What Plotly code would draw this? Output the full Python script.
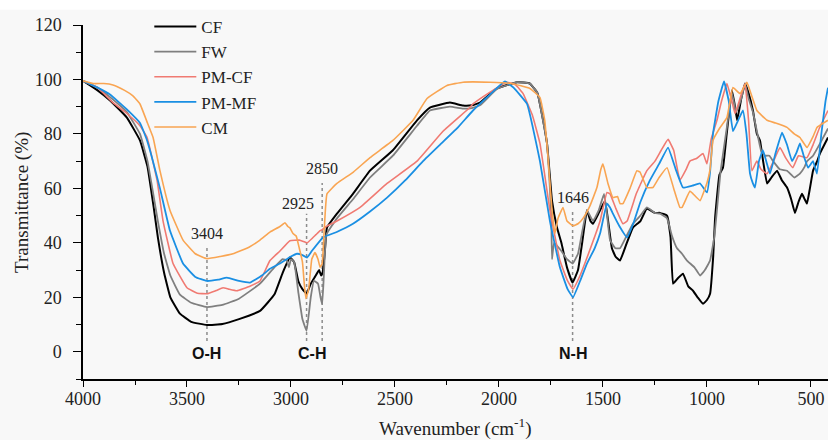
import plotly.graph_objects as go

# ---------------- data ----------------
wn_CF = [4000, 3930, 3870, 3789, 3726, 3690, 3660, 3640, 3610, 3580, 3534, 3480, 3404, 3330, 3250, 3149, 3080, 3040,
         3005, 2985, 2965, 2945, 2925, 2905, 2885, 2865, 2855, 2848, 2838, 2827, 2779, 2702, 2620, 2510, 2394, 2332,
         2236, 2173, 2130, 2091, 2010, 1913, 1851, 1815, 1803, 1769, 1745, 1721, 1700, 1673, 1646, 1620, 1600, 1577,
         1560, 1548, 1520, 1490, 1470, 1457, 1440, 1418, 1390, 1356, 1320, 1289, 1250, 1226, 1192, 1175, 1163, 1140,
         1115, 1090, 1067, 1045, 1019, 1000, 985, 970, 961, 940, 923, 905, 880, 865, 855, 835, 817, 800, 779, 760,
         745, 730, 711, 690, 663, 640, 615, 595, 577, 560, 543, 530, 519, 505, 490, 470, 457, 418]
t_CF = [99.5, 96, 92.3, 86, 77.6, 68, 53, 42, 29, 20, 14, 11, 9.8, 10.2, 12, 15, 21, 29,
        34.6, 33, 26, 23, 21.3, 25, 27.5, 30, 28, 29, 36, 45.6, 50.7, 58, 66.5, 74, 85, 89.7,
        91.5, 90.4, 90.5, 91.5, 96.7, 99, 98.5, 95, 91, 76.5, 55.5, 45.6, 40, 31, 25.4, 30, 40, 52,
        48, 47, 51, 55.5, 45, 38, 35, 33.5, 39, 45.6, 48, 52.6, 51, 51, 50, 42, 25, 27,
        28.7, 24, 22.4, 20, 17.6, 19, 21.3, 35, 49, 65, 67.6, 80, 96, 90, 85, 93, 98.5, 95, 88.6, 80,
        77.6, 70, 61.8, 64, 66.5, 63, 60.3, 56, 51, 55, 58, 56, 54.4, 60, 66.5, 70, 72.8, 78.7]

wn_FW = [4000, 3930, 3870, 3789, 3726, 3690, 3660, 3640, 3610, 3580, 3534, 3480, 3404, 3330, 3250, 3149, 3080, 3040,
         3020, 3010, 3000, 2985, 2965, 2945, 2925, 2905, 2890, 2870, 2858, 2850, 2842, 2830, 2779, 2702, 2620, 2510,
         2394, 2332, 2236, 2173, 2130, 2091, 2010, 1913, 1851, 1815, 1803, 1769, 1755, 1748, 1745, 1735, 1700, 1673,
         1646, 1620, 1600, 1577, 1548, 1520, 1495, 1480, 1466, 1440, 1418, 1390, 1356, 1320, 1289, 1250, 1226, 1192,
         1170, 1144, 1120, 1096, 1060, 1033, 1010, 985, 965, 952, 935, 905, 880, 860, 835, 817, 800, 779, 760, 740,
         720, 700, 682, 650, 615, 580, 553, 530, 519, 490, 460, 418]
t_FW = [99.5, 97, 93.5, 88, 80, 70, 57, 48, 36, 28, 21, 18, 16.4, 17.2, 19.5, 25, 31, 34,
        33.5, 31, 34, 33, 22, 12, 7.7, 20, 26, 25, 20, 17.5, 28, 43, 49, 56, 64, 72,
        83, 88.6, 90, 89.3, 89.5, 90.5, 96.5, 99, 98.5, 95, 91, 76.5, 60, 48, 34, 40, 37, 34,
        32.4, 36, 44, 52, 48, 52, 58, 50, 41, 38, 38, 42, 47, 50, 53, 51, 50.7, 49,
        43, 38, 36, 33.5, 31, 28, 30, 33.5, 42, 52, 66, 82, 95, 88, 93, 98.5, 93, 88, 81, 74,
        72, 72, 70, 67, 66.5, 64, 65.4, 68, 70, 72, 76, 82]

wn_PMCF = [4000, 3930, 3856, 3789, 3726, 3692, 3644, 3615, 3567, 3500, 3450, 3404, 3360, 3327, 3300, 3260, 3200, 3149,
           3101, 3053, 3005, 2960, 2940, 2923, 2900, 2880, 2860, 2850, 2830, 2779, 2668, 2538, 2394, 2269, 2140, 2125,
           2050, 1962, 1920, 1884, 1840, 1803, 1755, 1707, 1670, 1644, 1610, 1577, 1514, 1481, 1466, 1440, 1404, 1384,
           1340, 1289, 1250, 1220, 1187, 1160, 1130, 1100, 1082, 1050, 1019, 1000, 980, 952, 930, 904, 880, 865, 845,
           817, 800, 784, 760, 740, 711, 680, 649, 620, 587, 560, 519, 490, 460, 418]
t_PMCF = [99.5, 97, 91.5, 87.5, 83, 78.7, 63, 48, 32.4, 23.5, 21.5, 21.3, 22.5, 23.5, 23, 22.4, 24, 26,
          33.5, 37, 40.8, 41, 40.5, 40, 41.5, 43, 44.5, 44.8, 46, 48, 53, 61.8, 70, 81, 89.7, 91,
          95, 99, 98, 94.8, 87, 76.5, 52, 33.5, 26, 23, 28, 34.5, 48, 58.5, 58, 53, 47, 48,
          58, 66.5, 70, 74, 78, 74, 63, 67, 70, 71, 72.8, 69, 78, 85, 92, 98.5, 92, 87.5, 92,
          98.5, 85, 66.5, 70, 67, 65.4, 70, 75, 71, 67.6, 72, 71.3, 76, 82, 88.6]

wn_PMMF = [4000, 3930, 3870, 3789, 3726, 3692, 3630, 3582, 3519, 3460, 3404, 3350, 3308, 3250, 3197, 3140, 3101, 3053,
           3000, 2971, 2945, 2923, 2900, 2846, 2780, 2702, 2620, 2538, 2450, 2365, 2284, 2202, 2125, 2050, 1971, 1930,
           1865, 1803, 1755, 1707, 1670, 1644, 1610, 1577, 1540, 1514, 1481, 1466, 1452, 1420, 1384, 1350, 1320, 1274,
           1230, 1187, 1150, 1115, 1070, 1033, 1000, 985, 971, 945, 918, 895, 875, 850, 827, 810, 793, 780, 769, 750,
           731, 715, 697, 670, 639, 615, 591, 570, 553, 535, 514, 490, 471, 450, 430, 418]
t_PMMF = [99.5, 97, 94.5, 89, 84, 77.6, 60, 44.5, 32.4, 27.5, 26, 26.5, 27.2, 26, 25.4, 28, 30.5, 32.4,
          35, 36, 35.5, 34.6, 37, 42, 44, 47, 51.5, 56.6, 63, 70, 76, 82, 88.6, 94, 99.3, 97,
          91, 70, 48, 31, 23, 20, 26, 32.4, 38, 43.4, 54.4, 53, 50.7, 46, 42, 48, 55, 63,
          69, 75, 67, 60.3, 61, 61.8, 58.5, 66, 80, 92, 99.3, 92, 81, 85, 88.6, 80, 65.4, 62, 60.3, 70,
          74, 70, 65.4, 73, 80.5, 76, 70, 73, 76.5, 72, 67.6, 70, 65.4, 80, 92, 97]

wn_CM = [4000, 3950, 3900, 3856, 3800, 3760, 3726, 3690, 3663, 3630, 3582, 3519, 3460, 3404, 3340, 3279, 3200, 3149,
         3100, 3053, 3029, 3015, 3005, 2990, 2975, 2960, 2945, 2935, 2928, 2915, 2900, 2885, 2870, 2860, 2850, 2840,
         2827, 2779, 2700, 2620, 2510, 2413, 2346, 2250, 2173, 2043, 1940, 1851, 1803, 1780, 1765, 1745, 1731, 1716,
         1692, 1673, 1644, 1620, 1596, 1562, 1529, 1510, 1500, 1476, 1452, 1430, 1418, 1404, 1370, 1337, 1322, 1289,
         1260, 1230, 1192, 1160, 1130, 1120, 1082, 1067, 1033, 1000, 985, 971, 940, 904, 875, 841, 808, 785, 760,
         711, 670, 615, 580, 553, 519, 490, 471, 440, 418]
t_CM = [99.5, 98.5, 98.5, 98, 96, 94, 91, 84, 78.7, 66.5, 52, 41, 36, 34.2, 35, 36, 38.5, 41,
        44, 46, 47.4, 46, 45.5, 43.4, 42.5, 38, 33, 24, 19.5, 23, 34, 36.4, 34, 31, 32.4, 45,
        58, 61.8, 66, 71.3, 77.6, 85, 93, 97.8, 99, 99, 98.5, 96.7, 93.4, 85, 72, 52, 43.4, 49,
        53, 48, 46.3, 47, 49, 53.7, 60.3, 67, 69, 61.8, 56.6, 57, 54.4, 54.4, 60, 66.5, 66, 60.3,
        60.3, 64, 67.6, 60, 53, 53, 59, 58, 55.5, 62, 67, 77.6, 82, 86, 97, 94.8, 99, 94, 88.6,
        85, 84, 82.4, 80, 78.7, 75, 79, 82.4, 84, 85]

series_names = ["CF", "FW", "PM-CF", "PM-MF", "CM"]
series_x = [wn_CF, wn_FW, wn_PMCF, wn_PMMF, wn_CM]
series_y = [t_CF, t_FW, t_PMCF, t_PMMF, t_CM]
series_colors = ["#000000", "#7f7f7f", "#f07a72", "#1a8fe3", "#f9a552"]
series_widths = [2, 1.8, 1.6, 1.8, 1.6]

# peak markers: wavenumber, line top, label text, label y
peak_wn = [3404, 2925, 2850, 1646]
peak_top = [39, 50.7, 62, 51.8]
peak_label_wn = [3404, 2966, 2851, 1644]
peak_label_y = [43.4, 54.4, 67.3, 56.6]

group_labels = ["O-H", "C-H", "N-H"]
group_wn = [3404, 2899, 1644]
group_y = -0.5

xticks = [4000, 3500, 3000, 2500, 2000, 1500, 1000, 500]
yticks = [0, 20, 40, 60, 80, 100, 120]

SERIF = "Liberation Serif"
SANS = "Liberation Sans"

fig = go.Figure()

for wn, top in zip(peak_wn, peak_top):
    fig.add_trace(go.Scatter(x=[wn, wn], y=[4, top], mode="lines",
                             line=dict(color="#8c8c8c", width=1.5, dash="dot"),
                             showlegend=False, hoverinfo="skip"))

for name, xs, ys, c, w in zip(series_names, series_x, series_y, series_colors, series_widths):
    fig.add_trace(go.Scatter(x=xs, y=ys, mode="lines", name=name,
                             line=dict(color=c, width=w, shape="spline", smoothing=0.3)))

annotations = []
for lx, ly, wn in zip(peak_label_wn, peak_label_y, peak_wn):
    annotations.append(dict(x=lx, y=ly, xref="x", yref="y", text=str(wn), showarrow=False,
                            font=dict(family=SERIF, size=16, color="#222222")))
for lab, gx in zip(group_labels, group_wn):
    annotations.append(dict(x=gx, y=group_y, xref="x", yref="y", text="<b>" + lab + "</b>", showarrow=False,
                            font=dict(family=SANS, size=16, color="#111111")))
annotations.append(dict(x=-0.082, y=0.5, xref="paper", yref="paper", xanchor="center", yanchor="middle",
                        text="Transmittance (%)", textangle=-90, showarrow=False,
                        font=dict(family=SERIF, size=19, color="#222222")))
annotations.append(dict(x=0.5, y=-0.138, xref="paper", yref="paper", xanchor="center", yanchor="middle",
                        text="Wavenumber (cm<sup>-1</sup>)",
                        showarrow=False, font=dict(family=SERIF, size=19, color="#222222")))

fig.update_layout(
    width=828, height=440,
    margin=dict(l=83, r=0, t=25, b=61),
    paper_bgcolor="#f8f8f8", plot_bgcolor="#f8f8f8",
    font=dict(family=SERIF, size=18, color="#222222"),
    showlegend=True,
    legend=dict(x=0.089, y=1.045, xanchor="left", yanchor="top", bgcolor="rgba(0,0,0,0)",
                font=dict(family=SERIF, size=17, color="#222222"), itemwidth=42,
                tracegroupgap=0),
    annotations=annotations,
    shapes=[dict(type="rect", xref="paper", yref="paper", x0=-0.12, x1=1.01, y0=1.043, y1=1.08,
                 fillcolor="white", line=dict(width=0), layer="below")],
)

fig.update_xaxes(range=[4000, 418], tickvals=xticks, ticks="outside", ticklen=6, tickwidth=1.3,
                 showline=True, linecolor="black", linewidth=1.5, showgrid=False, zeroline=False,
                 minor=dict(dtick=250, ticks="outside", ticklen=4, tickwidth=1.2, tickcolor="black"),
                 tickcolor="black", ticklabelstandoff=-3,
                 tickfont=dict(family=SERIF, size=18, color="#222222"))
fig.update_yaxes(range=[-10, 120], tickvals=yticks, ticks="outside", ticklen=8, tickwidth=1.3,
                 showline=True, linecolor="black", linewidth=1.5, showgrid=False, zeroline=False,
                 minor=dict(dtick=10, ticks="outside", ticklen=5, tickwidth=1.2, tickcolor="black"),
                 tickcolor="black", ticklabelstandoff=8,
                 tickfont=dict(family=SERIF, size=18, color="#222222"))

fig.write_html("out.html")
